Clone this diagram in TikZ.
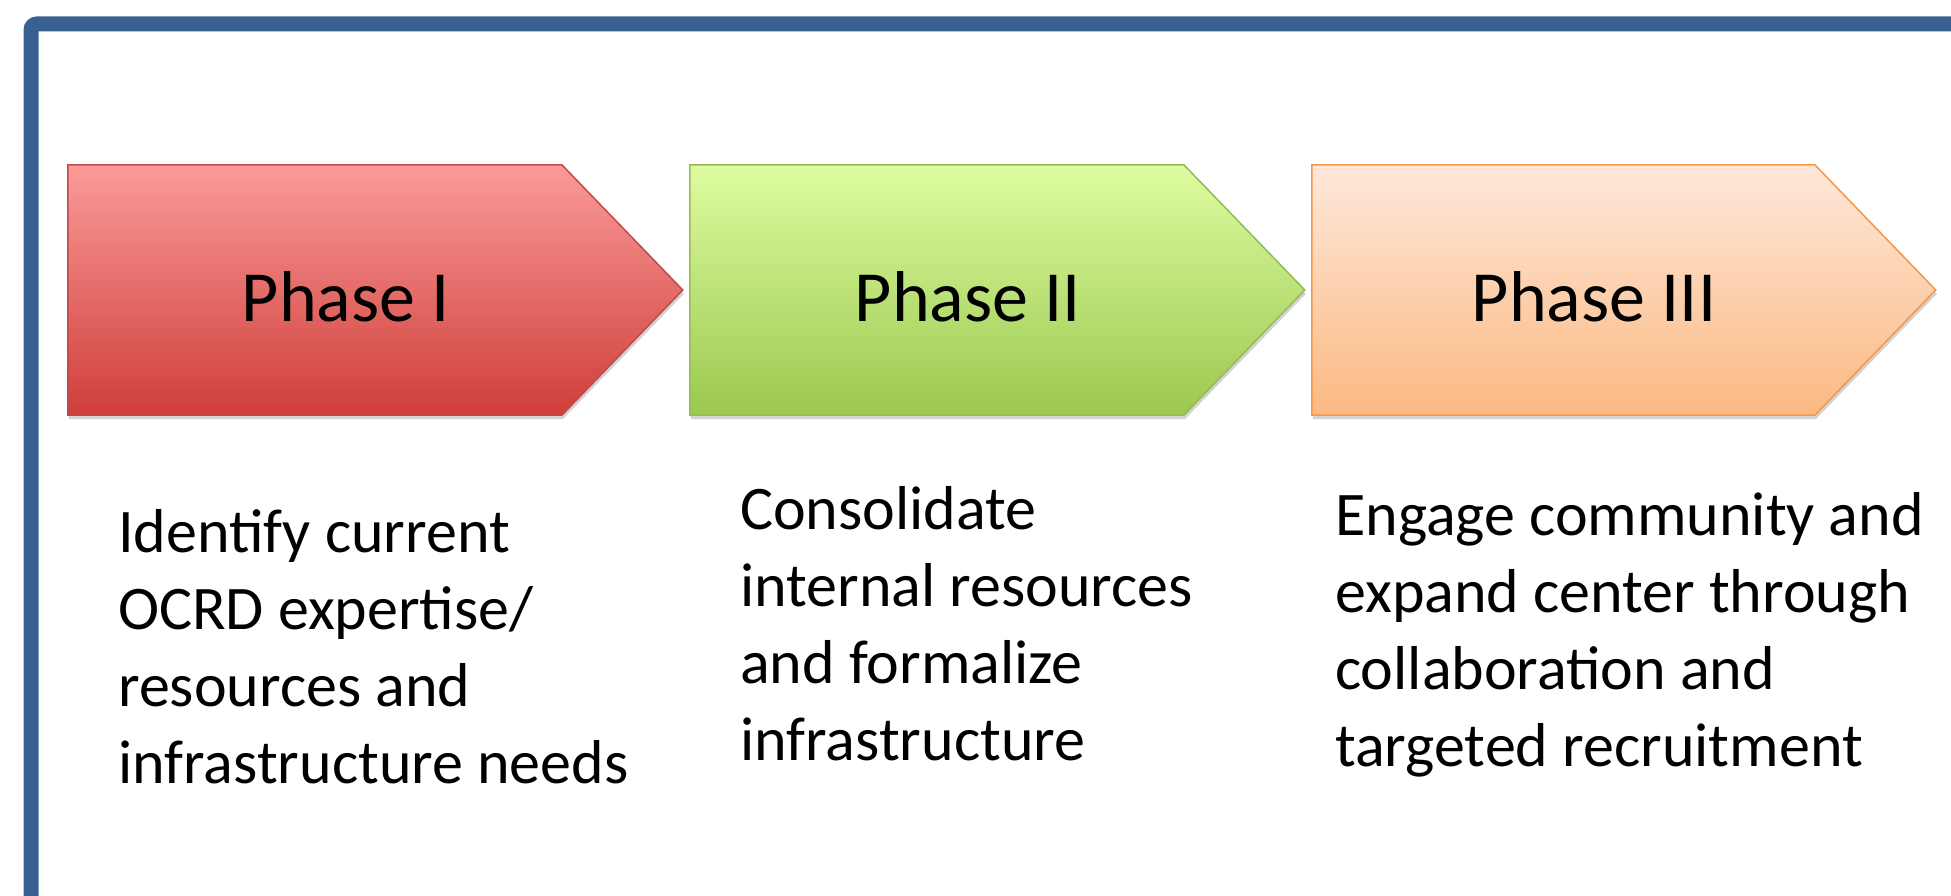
\documentclass[tikz,border=0pt]{standalone}
\usepackage{fontspec}
\setmainfont{Carlito}
\usetikzlibrary{shapes.symbols}
\usetikzlibrary{shadows}
\usetikzlibrary{calc}
\usetikzlibrary{positioning}

\definecolor{framecol}{RGB}{56,97,146}
\definecolor{redtop}{RGB}{250,155,153}
\definecolor{redbot}{RGB}{207,62,58}
\definecolor{redline}{RGB}{190,75,72}
\definecolor{greentop}{RGB}{222,252,160}
\definecolor{greenbot}{RGB}{155,200,80}
\definecolor{greenline}{RGB}{152,185,84}
\definecolor{orangetop}{RGB}{254,232,218}
\definecolor{orangebot}{RGB}{251,185,130}
\definecolor{orangeline}{RGB}{247,150,70}

\begin{document}
\begin{tikzpicture}[x=1pt, y=-1pt]
  \pgfmathsetmacro{\XST}{622}
  \pgfmathsetmacro{\XTX}{31}
\tikzset{
  phase/.style={draw, shape=signal, signal to=east, signal pointer angle=92,
    minimum width=615, minimum height=250, inner sep=0, line width=1.5pt,
    anchor=west,
    drop shadow={opacity=0.35, shadow xshift=1pt, shadow yshift=-4pt}},
  plabel/.style={anchor=base, inner sep=0, font=\fontsize{72}{86}\selectfont},
  descr/.style={anchor=base west, align=left, inner sep=0,
    font=\fontsize{62}{77}\selectfont},
}

       \useasboundingbox (0,0) rectangle (1951,896);
       \clip (0,0) rectangle (1951,896);

       \draw [framecol, line width=15pt, rounded corners=6pt]
       (31,24) rectangle (2200,1100);

       \node [phase, top color=redtop, bottom color=redbot, draw=redline]
       (p1) at (67,290) {};
       \node [phase, top color=greentop, bottom color=greenbot,
       draw=greenline] (p2) at ($(p1.west) + (\XST, 0)$) {};
       \node [phase, top color=orangetop, bottom color=orangebot,
       draw=orangeline, minimum width=624] (p3) at ($(p2.west) + (\XST, 0)$) {};

       \node [plabel] (l1) at ($(p1) + (\XTX, 31)$) {Phase I};
       \node [plabel] (l2) at ($(p2) + (\XTX, 31)$) {Phase II};
       \node [plabel] (l3) at ($(p3.west) + (283, 31)$) {Phase III};

       \node [descr] (d1) at (118,783) {Identify current\\OCRD expertise/\\
         resources and\\infrastructure needs};
       \node [descr] (d2) at (740,760) {Consolidate\\internal resources\\
         and formalize\\infrastructure};
       \node [descr] (d3) at (1335,766) {Engage community and\\expand center
         through\\collaboration and\\targeted recruitment};

\end{tikzpicture}
\end{document}
